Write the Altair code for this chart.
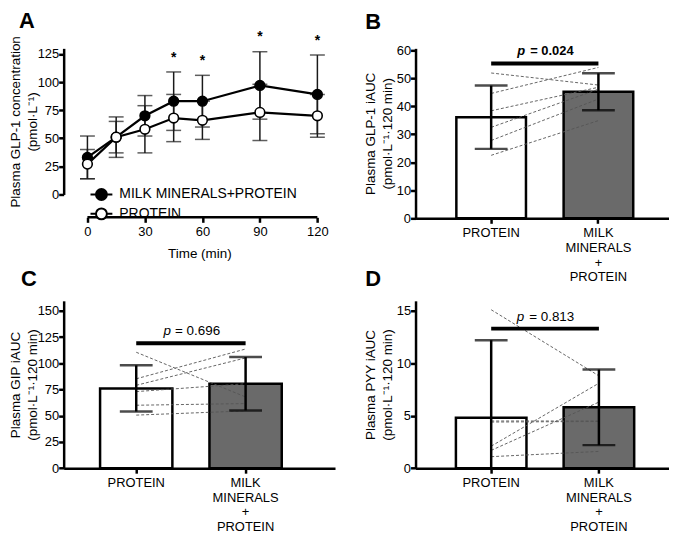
import altair as alt
import pandas as pd

FONT = "Liberation Sans"

# ---------------- Panel A data ----------------
times = [0, 15, 30, 45, 60, 90, 120]
milk_mean = [33, 51, 70, 83, 83, 97, 89]
milk_sd = [19, 18, 18, 26, 23, 30, 35]
prot_mean = [27, 51, 58, 68, 66, 73, 70]
prot_sd = [13, 14, 21, 21, 17, 25, 19]
sig_times = [45, 60, 90, 120]
series_names = ["MILK MINERALS+PROTEIN", "PROTEIN"]
time_ticks = [0, 30, 60, 90, 120]
glp_ticks = [0, 25, 50, 75, 100, 125]

# ---------------- Bar panels data ----------------
groups = ["PROTEIN", "MILK MINERALS + PROTEIN"]

glp_mean = [36.1, 45.2]
glp_sd = [11.3, 6.6]
glp_pre = [51.9, 44.6, 38.4, 32.5, 27.8, 22.5]
glp_post = [47.6, 53.9, 46.8, 46.1, 42.6, 34.9]
glp_auc_ticks = [0, 10, 20, 30, 40, 50, 60]

gip_mean = [76.0, 80.5]
gip_sd = [22.0, 25.4]
gip_pre = [110.5, 85.2, 79.0, 73.0, 60.0, 50.6]
gip_post = [67.9, 113.6, 105.1, 80.5, 61.6, 54.6]
gip_ticks = [0, 25, 50, 75, 100, 125, 150]

pyy_mean = [4.8, 5.8]
pyy_sd = [7.4, 3.6]
pyy_pre = [15.1, 4.5, 4.4, 2.1, 1.7, 1.1]
pyy_post = [8.8, 4.5, 4.45, 8.1, 6.3, 1.6]
pyy_ticks = [0, 5, 10, 15]

p_texts = ["= 0.024", "= 0.696", "= 0.813"]
p_line_y = [55.3, 119.0, 13.3]
panel_letters = ["A", "B", "C", "D"]


def letter_mark(letter, x, y):
    return alt.Chart(pd.DataFrame({"letter": [letter]})).mark_text(
        fontSize=22, fontWeight="bold", font=FONT, color="black", align="left",
        baseline="alphabetic").encode(text="letter:N", x=alt.value(x), y=alt.value(y))


# ---------------- Panel A ----------------
rows = []
for name, means, sds in [(series_names[0], milk_mean, milk_sd), (series_names[1], prot_mean, prot_sd)]:
    for t, m, s in zip(times, means, sds):
        rows.append({"t": t, "mean": m, "lo": m - s, "hi": m + s, "series": name,
                     "sig": bool(name == series_names[0] and t in sig_times)})
dfA = pd.DataFrame(rows)

WA, HA = 273, 147
xsA = alt.Scale(domain=[-12.4, 129.2], nice=False, zero=False)
xaxA = alt.Axis(values=time_ticks, offset=23, domain=False, title="Time (min)",
                titlePadding=8, labelPadding=3)
ysA = alt.Scale(domain=[0, 130], nice=False)
yaxA = alt.Axis(values=glp_ticks, title=["Plasma GLP-1 concentration", "(pmol·L⁻¹)"],
                titlePadding=-2.5, labelPadding=0)


def XA(field="t:Q"):
    return alt.X(field, scale=xsA, axis=xaxA)


def YA(field):
    return alt.Y(field, scale=ysA, axis=yaxA)


baseA = alt.Chart(dfA)
errA = baseA.mark_rule(strokeWidth=1.5, color="#1a1a1a").encode(x=XA(), y=YA("lo:Q"), y2="hi:Q")
capsA = baseA.transform_fold(["lo", "hi"], as_=["k", "v"]).mark_tick(
    orient="horizontal", size=15, thickness=1.5, color="#1a1a1a").encode(x=XA(), y=YA("v:Q"))
lineA = baseA.mark_line(color="black", strokeWidth=2.2).encode(x=XA(), y=YA("mean:Q"), detail="series:N")
legA = alt.Legend(title=None, orient="none", legendX=31, legendY=140, direction="vertical",
                  symbolType="M-2,0L-1,0M1,0L2,0M-1,0A1,1,0,1,1,1,0A1,1,0,1,1,-1,0Z",
                  symbolSize=121, symbolStrokeColor="black", symbolStrokeWidth=2,
                  labelFontSize=14, labelFont=FONT, labelColor="black", labelOffset=11,
                  rowPadding=-0.5, padding=0, labelLimit=400)
ptsA = baseA.mark_point(filled=True, size=95, stroke="black", strokeWidth=1.6, opacity=1,
                        shape="circle").encode(
    x=XA(), y=YA("mean:Q"),
    fill=alt.Fill("series:N", scale=alt.Scale(domain=series_names, range=["black", "white"]), legend=legA))
starA = baseA.transform_filter("datum.sig").mark_text(
    text="*", fontSize=14, fontWeight="bold", font=FONT, baseline="alphabetic", dy=-10.5,
    color="black").encode(x=XA(), y=YA("hi:Q"))
axisLineA = baseA.mark_rule(color="black", strokeWidth=2.5).encode(
    x=XA("min(t):Q"), x2="max(t)", y=alt.value(HA + 23))

panelA = alt.layer(errA, capsA, lineA, ptsA, starA, axisLineA,
                   letter_mark(panel_letters[0], -45, -20.4)).properties(width=WA, height=HA)


# ---------------- Bar panels ----------------
def bar_panel(mean, sd, pre, post, ytop, yticks, ytitle, tpad, width, height, pi, po, al,
              pline, ptext, bold, letter, lx, ly, p_dx, t_dx, pdy):
    dfb = pd.DataFrame({"cat": groups, "mean": mean, "sd": sd})
    dfb["lo"] = (dfb["mean"] - dfb["sd"]).clip(lower=0)
    dfb["hi"] = dfb["mean"] + dfb["sd"]
    dfb["lo_cap"] = (dfb["mean"] - dfb["sd"]) > 0
    n = len(pre)
    dfl = pd.DataFrame({"subj": list(range(n)) * 2,
                        "cat": [groups[0]] * n + [groups[1]] * n,
                        "v": pre + post})
    dfp = pd.DataFrame({"cat": [groups[0]], "cat2": [groups[1]], "y": [pline], "txt": [ptext]})

    xs = alt.Scale(domain=groups, paddingInner=pi, paddingOuter=po, align=al)
    xax = alt.Axis(title=None, labelExpr="split(datum.label, ' ')", labelAngle=0,
                   labelPadding=3, labelLineHeight=15)
    X = alt.X("cat:N", scale=xs, axis=xax, sort=groups)
    ys = alt.Scale(domain=[0, ytop], nice=False)
    yax = alt.Axis(values=yticks, title=ytitle, titlePadding=tpad, labelPadding=0)

    def Y(f):
        return alt.Y(f, scale=ys, axis=yax)

    fw = "bold" if bold else "normal"
    fs = 13 if bold else 13.5
    bars = alt.Chart(dfb).mark_bar(stroke="black", strokeWidth=2.5).encode(
        x=X, y=Y("mean:Q"),
        fill=alt.Fill("cat:N", scale=alt.Scale(domain=groups, range=["white", "#6a6a6a"]), legend=None))
    lines = alt.Chart(dfl).mark_line(strokeDash=[3, 2], strokeWidth=0.9, color="#555555").encode(
        x=X, y=Y("v:Q"), detail="subj:N")
    err = alt.Chart(dfb).mark_rule(strokeWidth=2.5, color="black").encode(x=X, y=Y("lo:Q"), y2="hi:Q")
    cap_hi = alt.Chart(dfb).mark_tick(orient="horizontal", size=33, thickness=2.5, color="black").encode(
        x=X, y=Y("hi:Q"))
    cap_lo = alt.Chart(dfb).transform_filter("datum.lo_cap").mark_tick(
        orient="horizontal", size=33, thickness=2.5, color="black").encode(x=X, y=Y("lo:Q"))
    prule = alt.Chart(dfp).mark_rule(strokeWidth=4, color="black").encode(x=X, x2="cat2:N", y=Y("y:Q"))
    ptxt1 = alt.Chart(dfp).mark_text(text="p", fontStyle="italic", fontWeight=fw, fontSize=fs, font=FONT,
                                     align="right", baseline="alphabetic", dx=p_dx, dy=pdy,
                                     color="black").encode(x=X, y=Y("y:Q"))
    ptxt2 = alt.Chart(dfp).mark_text(fontWeight=fw, fontSize=fs, font=FONT, align="left",
                                     baseline="alphabetic", dx=t_dx, dy=pdy, color="black").encode(
        x=X, y=Y("y:Q"), text="txt:N")
    return alt.layer(bars, lines, err, cap_hi, cap_lo, prule, ptxt1, ptxt2,
                     letter_mark(letter, lx, ly)).properties(width=width, height=height)


panelB = bar_panel(glp_mean, glp_sd, glp_pre, glp_post, 60.7, glp_auc_ticks,
                   ["Plasma GLP-1 iAUC", "(pmol·L⁻¹·120 min)"], 1.5, 255, 171,
                   0.351, 0.357, 0.533, p_line_y[0], p_texts[0], True, panel_letters[1], -50.7, -19.7,
                   34.3, 39.3, -9)
panelC = bar_panel(gip_mean, gip_sd, gip_pre, gip_post, 159.5, gip_ticks,
                   ["Plasma GIP iAUC", "(pmol·L⁻¹·120 min)"], -2.5, 273, 168.4,
                   0.339, 0.41, 0.406, p_line_y[1], p_texts[1], False, panel_letters[2], -43, -15.3,
                   35, 39, -8)
panelD = bar_panel(pyy_mean, pyy_sd, pyy_pre, pyy_post, 15.95, pyy_ticks,
                   ["Plasma PYY iAUC", "(pmol·L⁻¹·120 min)"], 1.5, 255, 168.4,
                   0.345, 0.349, 0.537, p_line_y[2], p_texts[2], False, panel_letters[3], -50.7, -15.3,
                   33.2, 38.2, -8)

chart = alt.concat(panelA, panelB, panelC, panelD, columns=2,
                   spacing={"row": 83, "column": 81}, bounds="flush").resolve_scale(
    fill="independent"
).resolve_legend(fill="independent").properties(
    padding=0
).configure_view(stroke=None).configure_axis(
    domainColor="black", domainWidth=2.5, tickColor="black", tickWidth=2.5, tickSize=5,
    labelColor="black", labelFont=FONT, labelFontSize=13, labelPadding=2,
    titleFont=FONT, titleFontSize=13.5, titleFontWeight="normal", titleColor="black",
    titleLineHeight=17.5, grid=False
).configure_text(font=FONT)

chart.save("out.html", embed_options={"renderer": "svg", "actions": False})
